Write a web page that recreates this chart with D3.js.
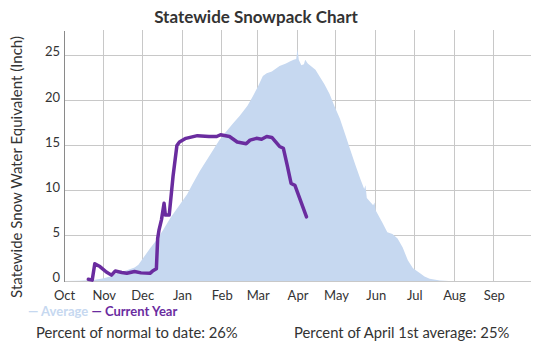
<!DOCTYPE html>
<html><head><meta charset="utf-8">
<script src="https://cdn.jsdelivr.net/npm/d3@7"></script>
<style>
body{margin:0;background:#fff;}
svg text{font-family:Lato,"Open Sans",sans-serif;}
</style>
</head><body>
<svg id="chart" width="553" height="360"></svg>
<script>
const avgDates = ["2022-10-01","2022-10-13","2022-10-24","2022-11-01","2022-11-06","2022-11-12","2022-11-19","2022-11-25","2022-11-28","2022-12-02","2022-12-07","2022-12-12","2022-12-17","2022-12-23","2022-12-27","2023-01-01","2023-01-05","2023-01-09","2023-01-15","2023-01-23","2023-01-30","2023-02-03","2023-02-10","2023-02-15","2023-02-21","2023-02-25","2023-03-01","2023-03-05","2023-03-08","2023-03-12","2023-03-18","2023-03-23","2023-03-26","2023-03-29","2023-03-31","2023-04-01","2023-04-02","2023-04-04","2023-04-06","2023-04-07","2023-04-09","2023-04-15","2023-04-18","2023-04-22","2023-04-26","2023-04-30","2023-05-04","2023-05-08","2023-05-12","2023-05-16","2023-05-20","2023-05-23","2023-05-24","2023-05-25","2023-05-30","2023-05-31","2023-06-01","2023-06-06","2023-06-10","2023-06-14","2023-06-18","2023-06-22","2023-06-26","2023-06-30","2023-07-05","2023-07-09","2023-07-13","2023-07-21","2023-07-28","2023-09-30"];
const avgValues = [0,0.03,0.1,0.3,0.5,0.9,1.2,1.5,1.8,2.6,3.6,4.5,5.6,7.0,7.8,8.8,9.6,10.7,12.2,14.0,15.6,16.3,17.5,18.3,19.4,20.4,21.5,22.7,23.0,23.2,23.8,24.1,24.3,24.5,24.6,25.7,24.5,23.9,24.0,24.5,24.1,23.4,22.7,21.8,20.7,19.3,18.0,16.3,14.6,12.9,11.3,10.2,10.6,9.2,8.4,8.7,7.8,6.5,5.4,5.2,4.7,3.7,2.3,1.4,0.9,0.5,0.25,0.05,0,0];

const curDates = ["2022-10-20","2022-10-23","2022-10-25","2022-10-29","2022-11-03","2022-11-07","2022-11-10","2022-11-15","2022-11-19","2022-11-25","2022-11-30","2022-12-07","2022-12-09","2022-12-12","2022-12-13","2022-12-14","2022-12-16","2022-12-18","2022-12-19","2022-12-22","2022-12-25","2022-12-28","2022-12-30","2023-01-04","2023-01-13","2023-01-22","2023-01-28","2023-01-31","2023-02-07","2023-02-13","2023-02-20","2023-02-23","2023-02-28","2023-03-04","2023-03-08","2023-03-12","2023-03-15","2023-03-18","2023-03-21","2023-03-24","2023-03-27","2023-03-30","2023-04-08"];
const curValues = [0.2,0.1,1.9,1.6,1.0,0.65,1.1,0.95,0.85,1.05,0.9,0.85,1.1,1.35,4.7,5.6,6.8,8.6,7.3,7.3,11.6,15.0,15.4,15.8,16.1,16.0,16.0,16.2,16.0,15.4,15.2,15.6,15.8,15.7,16.0,15.9,15.4,14.9,14.7,12.8,10.8,10.6,7.1];

const monthLabels = ["Oct","Nov","Dec","Jan","Feb","Mar","Apr","May","Jun","Jul","Aug","Sep"];
const yTicks = [0,5,10,15,20,25];
const titleText = "Statewide Snowpack Chart";
const yAxisTitle = "Statewide Snow Water Equivalent (Inch)";
const legendNames = ["Average","Current Year"];
const statLabels = ["Percent of normal to date: 26%","Percent of April 1st average: 25%"];

const avgColor = "#c6d8f0", curColor = "#6a2c9f", textColor = "#333";
const parse = d3.timeParse("%Y-%m-%d");
const avg = avgDates.map((d,i)=>({date:parse(d), v:avgValues[i]}));
const cur = curDates.map((d,i)=>({date:parse(d), v:curValues[i]}));

const svg = d3.select("#chart");
const x = d3.scaleTime().domain([parse("2022-10-01"), parse("2023-09-30")]).range([64, 531]);
const y = d3.scaleLinear().domain([0, 27.8]).range([281, 30]);
const monthStarts = d3.timeMonth.range(parse("2022-10-01"), parse("2023-09-30"));

// grid
const g = svg.append("g");
g.selectAll("line.v").data(monthStarts.slice(1)).join("line")
  .attr("x1", d=>x(d)).attr("x2", d=>x(d)).attr("y1", y.range()[1]).attr("y2", y(0))
  .attr("stroke", "#c8c8c8").attr("stroke-width", 1).attr("shape-rendering","crispEdges");
g.selectAll("line.h").data(yTicks).join("line")
  .attr("x1", x.range()[0]).attr("x2", x.range()[1]).attr("y1", d=>y(d)).attr("y2", d=>y(d))
  .attr("stroke", "#c8c8c8").attr("stroke-width", 1).attr("shape-rendering","crispEdges");

// average area
svg.append("path").datum(avg)
  .attr("d", d3.area().x(d=>x(d.date)).y0(y(0)).y1(d=>y(d.v)))
  .attr("fill", avgColor);

// current year line
svg.append("path").datum(cur)
  .attr("d", d3.line().x(d=>x(d.date)).y(d=>y(d.v)))
  .attr("fill", "none").attr("stroke", curColor).attr("stroke-width", 3.5)
  .attr("stroke-linejoin","round").attr("stroke-linecap","round");

// y axis
const yAxis = svg.append("g").attr("transform", `translate(${x.range()[0]},0)`)
  .call(d3.axisLeft(y).tickValues(yTicks).tickSize(0).tickPadding(4));
yAxis.select(".domain").attr("stroke", "#8a8a8a").attr("shape-rendering","crispEdges");
yAxis.selectAll("text").attr("font-size", 13).attr("fill", textColor).attr("dy", "0.05em")
  .style("font-family","Lato,sans-serif");

// x axis
const xAxis = svg.append("g").attr("transform", `translate(0,${y(0)})`)
  .call(d3.axisBottom(x).tickValues(monthStarts).tickFormat((d,i)=>monthLabels[i]).tickSize(0).tickPadding(10));
xAxis.select(".domain").remove();
xAxis.selectAll("text").attr("font-size", 13).attr("fill", textColor).style("font-family","Lato,sans-serif");

// title
svg.append("text").attr("x", 256).attr("y", 23).attr("text-anchor","middle")
  .attr("font-size", 17).attr("font-weight", "bold").attr("fill", textColor).text(titleText);

// y axis title
svg.append("text").attr("transform", "translate(22,167) rotate(-90)").attr("text-anchor","middle")
  .attr("font-size", 15).attr("fill", textColor).text(yAxisTitle);

// legend
const leg = svg.append("text").attr("x", 28).attr("y", 316).attr("font-size", 13).attr("font-weight","bold");
leg.append("tspan").attr("fill", avgColor).text("\u2014 " + legendNames[0] + " ");
leg.append("tspan").attr("fill", curColor).text("\u2014 " + legendNames[1]);

// stats
svg.append("text").attr("x", 36).attr("y", 338).attr("font-size", 14.8).attr("fill", textColor).text(statLabels[0]);
svg.append("text").attr("x", 294).attr("y", 338).attr("font-size", 14.8).attr("fill", textColor).text(statLabels[1]);
</script>
</body></html>
